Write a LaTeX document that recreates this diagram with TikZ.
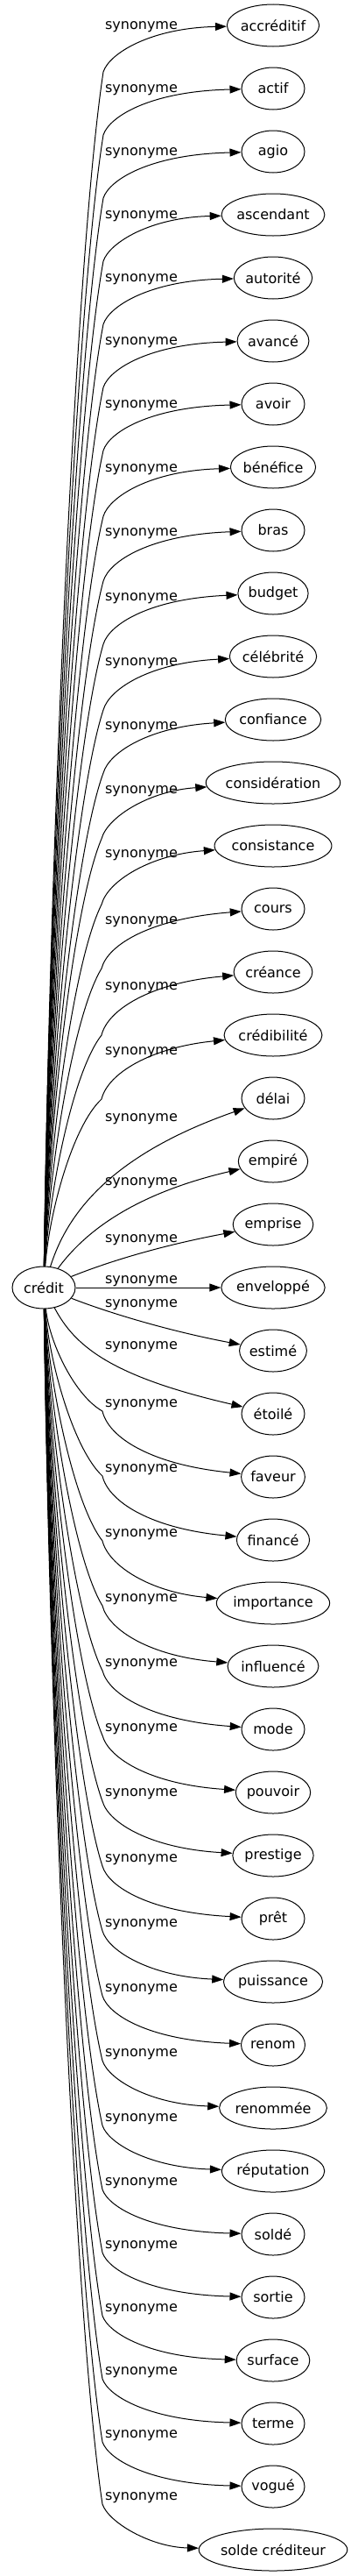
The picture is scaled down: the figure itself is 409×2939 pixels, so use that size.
\documentclass[tikz,border=0pt]{standalone}
\usepackage{fontspec}
\setmainfont{DejaVu Sans}
\usetikzlibrary{arrows.meta,shapes.geometric}
\newlength\tgtw
\newcommand\tnode[4]{%
  \settowidth\tgtw{\fontsize{16}{19}\selectfont #4}%
  \pgfmathsetlengthmacro\ew{max(72pt,1.2*\tgtw+35pt)}%
  \node[tgt, minimum width=\ew] (#1) at (#2,#3) {#4};}
\tikzset{
  tgt/.style={draw, ellipse, line width=1pt, minimum height=48pt, inner sep=0pt, font=\fontsize{16}{19}\selectfont},
  lab/.style={inner sep=0pt, anchor=base, font=\fontsize{16}{19}\selectfont},
  edge/.style={draw, line width=1pt, -{Triangle[length=13pt,width=9pt]}},
}
\begin{document}
\begin{tikzpicture}[x=1pt,y=-1pt]
\useasboundingbox (0,0) rectangle (409,2939);
% source node
\tnode{credit}{50}{1469}{crédit}
% target nodes
\foreach \w [count=\k from 0] in {accréditif,actif,agio,ascendant,autorité,avancé,avoir,bénéfice,bras,budget,célébrité,confiance,considération,consistance,cours,créance,crédibilité,délai,empiré,emprise,enveloppé,estimé,étoilé,faveur,financé,importance,influencé,mode,pouvoir,prestige,prêt,puissance,renom,renommée,réputation,soldé,sortie,surface,terme,vogué,solde créditeur}{
  \pgfmathsetmacro\yy{29+72*\k}
  \tnode{t\k}{312}{\yy}{\w}
}
% labels
\foreach \lo [count=\k from 0] in {-1,-1,-1,-1,-1,-1,-1,0,1,3,5,6,7,8,12,15,17,21,22,15,-10,-55,-79,-85,-83,-81,-79,-77,-75,-72.5,-70,-68,-66,-64,-62,-61,-61,-61,-61,-61,-62}{
  \pgfmathsetmacro\yl{29+72*\k+\lo+5}
  \node[lab] (l\k) at (161.5,\yl) {synonyme};
}
% upper edges with a bend
\foreach \i/\bo/\xb/\cc in {0/53/118/3,1/53/118/3,2/53/118/3,3/53/118/3,4/53/118/3,5/53/118/3,6/53/118/3,7/56/118/4,8/58/118/5,9/58/118/6,10/61/118/7,11/61/118/8,12/64/116/9,13/67/116/10,14/68/116/11,15/72/116/12,16/73/116/14}{
  \pgfmathsetmacro\yt{29+72*\i}
  \pgfmathsetmacro\yb{\yt+\bo}
  \pgfmathsetmacro\L{1445-\yb}
  \pgfmathsetmacro\ya{1445-0.32*\L}
  \pgfmathsetmacro\xc{\xb-33}
  \pgfmathsetmacro\yc{\yb+0.16*\L}
  \pgfmathsetmacro\xd{\xb+7}
  \pgfmathsetmacro\yd{\yb-0.4*\bo}
  \pgfmathsetmacro\ye{\yt+\cc}
  \coordinate (b\i) at (\xb,\yb);
  \draw[edge] (credit) .. controls (56,\ya) and (\xc,\yc) .. (b\i) .. controls (\xd,\yd) and (172,\ye) .. (t\i);
}
% near edges
\draw[edge] (credit) .. controls (75,1390) and (120,1320) .. (t17);
\draw[edge] (credit) .. controls (90,1415) and (140,1365) .. (t18);
\draw[edge] (credit) .. controls (130,1437) and (190,1420) .. (t19);
\draw[edge] (credit) -- (t20);
\draw[edge] (credit) .. controls (130,1500) and (200,1520) .. (t21);
\draw[edge] (credit) .. controls (85,1535) and (125,1570) .. (t22);
% lower edges with a bend
\foreach \i/\bo/\cc in {23/-75/14,24/-73/13,25/-71/12,26/-69/11,27/-67/10,28/-65/9,29/-62/8,30/-60/7,31/-58/6,32/-56/5,33/-54/4,34/-52/4,35/-51/3,36/-51/3,37/-51/3,38/-51/3,39/-51/3,40/-52/3}{
  \pgfmathsetmacro\yt{29+72*\i}
  \pgfmathsetmacro\yb{\yt+\bo}
  \pgfmathsetmacro\L{\yb-1492}
  \pgfmathsetmacro\ya{1492+0.32*\L}
  \pgfmathsetmacro\yc{\yb-0.16*\L}
  \pgfmathsetmacro\yd{\yb-0.4*\bo}
  \pgfmathsetmacro\ye{\yt-\cc}
  \coordinate (b\i) at (117,\yb);
  \draw[edge] (credit) .. controls (56,\ya) and (84,\yc) .. (b\i) .. controls (124,\yd) and (172,\ye) .. (t\i);
}
\end{tikzpicture}
\end{document}
